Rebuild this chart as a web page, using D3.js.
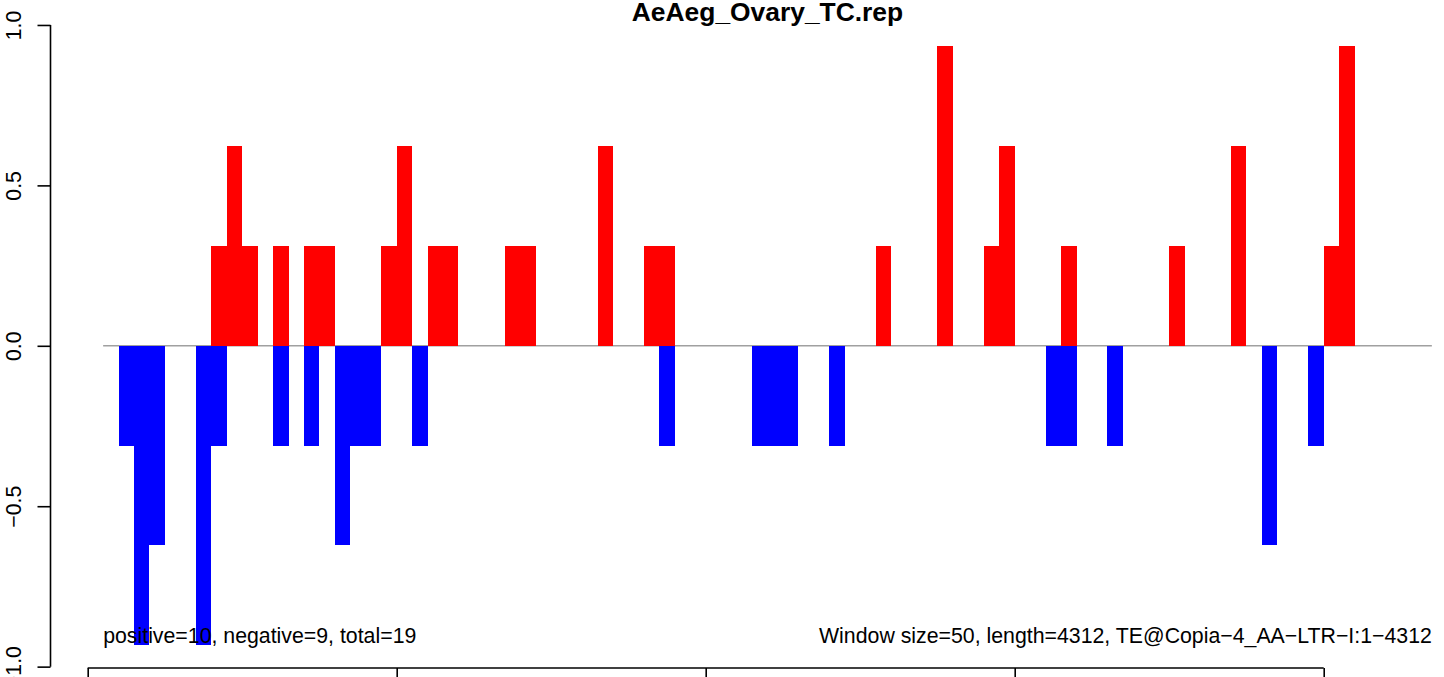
<!DOCTYPE html>
<html>
<head>
<meta charset="utf-8">
<script src="https://cdn.jsdelivr.net/npm/d3@7"></script>
<style>
  html, body { margin: 0; padding: 0; background: #fff; }
  svg { display: block; }
  text { font-family: "Liberation Sans", Arial, Helvetica, sans-serif; }
</style>
</head>
<body>
<svg id="chart" width="1444" height="677"></svg>
<script>
// ---- data ----
const title = "AeAeg_Ovary_TC.rep";
const nBins = 86;                       // windows of 50 bp over 4312 bp
const posBins   = [8, 9, 10, 12, 14, 15, 19, 20, 22, 23, 27, 28, 33, 36, 37, 51, 55, 58, 59, 63, 70, 74, 80, 81];
const posValues = [0.311, 0.622, 0.311, 0.311, 0.311, 0.311, 0.311, 0.622, 0.311, 0.311, 0.311, 0.311, 0.622, 0.311, 0.311, 0.311, 0.933, 0.311, 0.622, 0.311, 0.311, 0.622, 0.311, 0.933];
const negBins   = [2, 3, 4, 7, 8, 12, 14, 16, 17, 18, 21, 37, 43, 44, 45, 48, 62, 63, 66, 76, 79];
const negValues = [-0.311, -0.933, -0.622, -0.933, -0.311, -0.311, -0.311, -0.622, -0.311, -0.311, -0.311, -0.311, -0.311, -0.311, -0.311, -0.311, -0.311, -0.311, -0.311, -0.622, -0.311];
const xTicks = [0, 20, 40, 60, 80];
const yTicks = [-1.0, -0.5, 0.0, 0.5, 1.0];
const yTickLabels = ["\u22121.0", "\u22120.5", "0.0", "0.5", "1.0"];
const leftNote = "positive=10, negative=9, total=19";
const rightNote = "Window size=50, length=4312, TE@Copia\u22124_AA\u2212LTR\u2212I:1\u22124312";

// ---- scales ----
const svg = d3.select("#chart");
const xPad = 0.04 * (nBins + 1 - 1);
const x = d3.scaleLinear().domain([1 - xPad, nBins + 1 + xPad]).range([50, 1485]);
const y = d3.scaleLinear().domain([-1.08, 1.08]).range([692.3, -0.7]);

// baseline
svg.append("line")
  .attr("x1", x(1)).attr("x2", x(nBins + 1))
  .attr("y1", y(0)).attr("y2", y(0))
  .attr("stroke", "#a0a0a0").attr("stroke-width", 1.5);

// bars
const posData = posBins.map((b, i) => ({ b, v: posValues[i] }));
const negData = negBins.map((b, i) => ({ b, v: negValues[i] }));

svg.append("g").selectAll("rect").data(posData).join("rect")
  .attr("x", d => x(d.b)).attr("width", d => x(d.b + 1) - x(d.b))
  .attr("y", d => y(d.v)).attr("height", d => y(0) - y(d.v))
  .attr("fill", "#ff0000").attr("shape-rendering", "crispEdges");

svg.append("g").selectAll("rect").data(negData).join("rect")
  .attr("x", d => x(d.b)).attr("width", d => x(d.b + 1) - x(d.b))
  .attr("y", y(0) + 0.5).attr("height", d => y(d.v) - y(0) - 0.5)
  .attr("fill", "#0000ff").attr("shape-rendering", "crispEdges");

// y axis (R style: line spans first to last tick)
const yAxis = d3.axisLeft(y).tickValues(yTicks).tickSize(13).tickFormat((d, i) => yTickLabels[i]);
const gy = svg.append("g").attr("transform", "translate(50.5,0)").call(yAxis);
gy.select(".domain").remove();
gy.selectAll(".tick line").attr("stroke", "#000").attr("stroke-width", 1.6);
gy.append("line").attr("x1", 0).attr("x2", 0).attr("y1", y(-1)).attr("y2", y(1))
  .attr("stroke", "#000").attr("stroke-width", 1.6);
gy.selectAll(".tick text")
  .attr("x", 0).attr("y", 0).attr("dy", null)
  .attr("transform", "translate(-30,0) rotate(-90)")
  .attr("text-anchor", "middle")
  .attr("font-size", 21.3).attr("fill", "#000")
  .attr("font-family", "'Liberation Sans', Arial, sans-serif");

// x axis (its labels fall below the visible picture, as in the reference)
const xAxis = d3.axisBottom(x).tickValues(xTicks).tickSize(14).tickFormat("");
const gx = svg.append("g").attr("transform", "translate(0,668)").call(xAxis);
gx.select(".domain").remove();
gx.selectAll(".tick line").attr("stroke", "#000").attr("stroke-width", 1.6);
gx.selectAll(".tick text").remove();
gx.append("line").attr("x1", x(0)).attr("x2", x(80)).attr("y1", 0).attr("y2", 0)
  .attr("stroke", "#000").attr("stroke-width", 1.6);

// title
svg.append("text")
  .attr("x", (x.range()[0] + x.range()[1]) / 2).attr("y", 21)
  .attr("text-anchor", "middle").attr("font-weight", "bold").attr("font-size", 26.4)
  .text(title);

// notes
svg.append("text").attr("x", x(1)).attr("y", 643)
  .attr("font-size", 21.3).text(leftNote);
svg.append("text").attr("x", x(nBins + 1)).attr("y", 643)
  .attr("text-anchor", "end").attr("font-size", 21.3).text(rightNote);
</script>
</body>
</html>
